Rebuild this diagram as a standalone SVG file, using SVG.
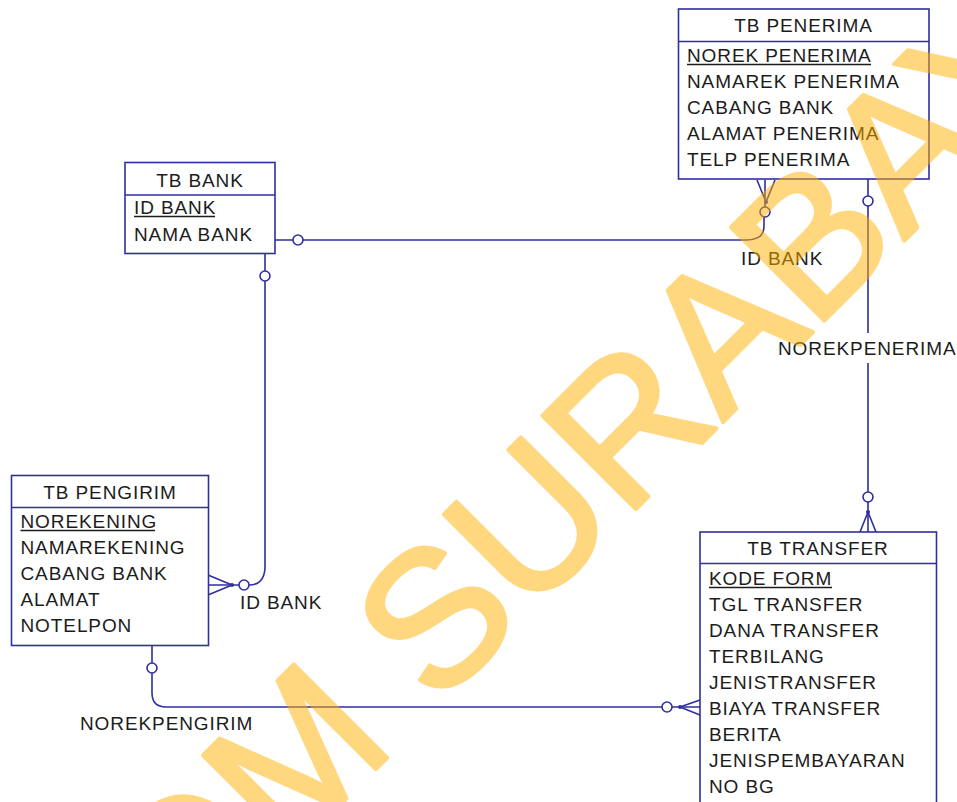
<svg xmlns="http://www.w3.org/2000/svg" width="957" height="802" viewBox="0 0 957 802">
<style>
.box{fill:#fff;stroke:#2f2f9f;stroke-width:1.6}
.div{stroke:#2f2f9f;stroke-width:1.6}
.t{font-family:"Liberation Sans",Arial,sans-serif;font-size:19px;fill:#1c1c1c;letter-spacing:0.9px}
.ttl{text-anchor:middle}
.ul{stroke:#1c1c1c;stroke-width:1.4}
.ln{fill:none;stroke:#2f2f9f;stroke-width:1.6}
.cir{fill:#fff;stroke:#2f2f9f;stroke-width:1.6}
.dot{fill:#2f2f9f}
.wm{font-family:"Liberation Sans",Arial,sans-serif;font-size:192px;fill:#FFB000;stroke:#FFB000;stroke-width:4;stroke-linejoin:round}
</style>
<rect width="957" height="802" fill="#fff"/>
<g id="connectors">
  <path class="ln" d="M275,240 H747 Q764,240 764,226 V217"/>
  <path class="ln" d="M765,207 V180 M766,202 L757,180 M766,202 L775,180"/>
  <circle class="cir" cx="298" cy="240" r="5"/>
  <circle class="cir" cx="765" cy="212" r="5"/>
  <circle class="dot" cx="766" cy="202" r="2"/>
  <path class="ln" d="M868,179 V333 M868,363 V532"/>
  <path class="ln" d="M868,512 L860,532 M868,512 L876,532"/>
  <circle class="cir" cx="868" cy="201" r="5"/>
  <circle class="cir" cx="868" cy="497" r="5"/>
  <circle class="dot" cx="868" cy="512" r="2"/>
  <path class="ln" d="M265,253 V566 Q265,585 249,585 L208,585"/>
  <path class="ln" d="M232,585 L208,575 M232,585 L208,595"/>
  <circle class="cir" cx="265" cy="276" r="5"/>
  <circle class="cir" cx="244" cy="585" r="5"/>
  <circle class="dot" cx="232" cy="585" r="2"/>
  <path class="ln" d="M152,646 V693 Q152,707 166,707 H700"/>
  <path class="ln" d="M680,707 L700,700 M680,707 L700,715"/>
  <circle class="cir" cx="152" cy="668" r="5"/>
  <circle class="cir" cx="667" cy="707" r="5"/>
  <circle class="dot" cx="680" cy="707" r="2"/>
  <text class="t" x="741" y="265">ID BANK</text>
  <text class="t" x="778" y="355">NOREKPENERIMA</text>
  <text class="t" x="240" y="609">ID BANK</text>
  <text class="t" x="80" y="730">NOREKPENGIRIM</text>
</g>
<g id="tb-penerima">
  <rect class="box" x="678.5" y="9" width="250.5" height="170"/>
  <line class="div" x1="678.5" y1="41.5" x2="929" y2="41.5"/>
  <text class="t ttl" x="803.5" y="32">TB PENERIMA</text>
  <text class="t" x="687" y="62">NOREK PENERIMA</text>
  <line class="ul" x1="687" y1="64.5" x2="871" y2="64.5"/>
  <text class="t" x="687" y="88">NAMAREK PENERIMA</text>
  <text class="t" x="687" y="114">CABANG BANK</text>
  <text class="t" x="687" y="140">ALAMAT PENERIMA</text>
  <text class="t" x="687" y="166">TELP PENERIMA</text>
</g>
<g id="tb-bank">
  <rect class="box" x="125" y="162.5" width="150" height="91"/>
  <line class="div" x1="125" y1="195" x2="275" y2="195"/>
  <text class="t ttl" x="200" y="187">TB BANK</text>
  <text class="t" x="134" y="214">ID BANK</text>
  <line class="ul" x1="134" y1="216.5" x2="215" y2="216.5"/>
  <text class="t" x="134" y="241">NAMA BANK</text>
</g>
<g id="tb-pengirim">
  <rect class="box" x="11.5" y="475.5" width="197" height="170"/>
  <line class="div" x1="11.5" y1="507.5" x2="208.5" y2="507.5"/>
  <text class="t ttl" x="110" y="499">TB PENGIRIM</text>
  <text class="t" x="20.5" y="528">NOREKENING</text>
  <line class="ul" x1="20.5" y1="530.5" x2="155" y2="530.5"/>
  <text class="t" x="20.5" y="554">NAMAREKENING</text>
  <text class="t" x="20.5" y="580">CABANG BANK</text>
  <text class="t" x="20.5" y="606">ALAMAT</text>
  <text class="t" x="20.5" y="632">NOTELPON</text>
</g>
<g id="tb-transfer">
  <rect class="box" x="700" y="532" width="236.5" height="280"/>
  <line class="div" x1="700" y1="563.5" x2="936.5" y2="563.5"/>
  <text class="t ttl" x="818" y="555">TB TRANSFER</text>
  <text class="t" x="709" y="585">KODE FORM</text>
  <line class="ul" x1="709" y1="587.5" x2="832" y2="587.5"/>
  <text class="t" x="709" y="611">TGL TRANSFER</text>
  <text class="t" x="709" y="637">DANA TRANSFER</text>
  <text class="t" x="709" y="663">TERBILANG</text>
  <text class="t" x="709" y="689">JENISTRANSFER</text>
  <text class="t" x="709" y="715">BIAYA TRANSFER</text>
  <text class="t" x="709" y="741">BERITA</text>
  <text class="t" x="709" y="767">JENISPEMBAYARAN</text>
  <text class="t" x="709" y="793">NO BG</text>
</g>
<g id="watermark" opacity="0.5">
  <text class="wm" transform="translate(-122,1267) rotate(-45)" x="0" y="0">STIKOM SURABAYA</text>
</g>
</svg>
